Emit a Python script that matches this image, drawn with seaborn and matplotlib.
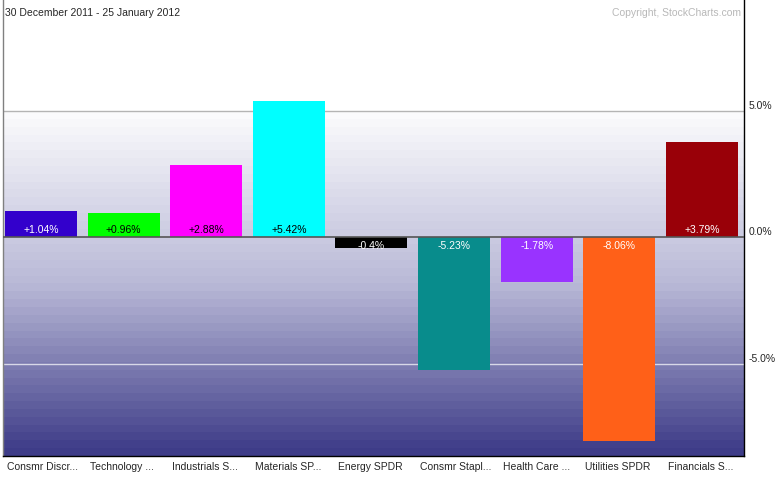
import numpy as np
import matplotlib.pyplot as plt
from matplotlib.colors import LinearSegmentedColormap
import seaborn as sns

sectors = ['Consmr Discr...', 'Technology ...', 'Industrials S...', 'Materials SP...',
           'Energy SPDR', 'Consmr Stapl...', 'Health Care ...', 'Utilities SPDR',
           'Financials S...']
changes = [1.04, 0.96, 2.88, 5.42, -0.4, -5.23, -1.78, -8.06, 3.79]
labels = ['+1.04%', '+0.96%', '+2.88%', '+5.42%', '-0.4%', '-5.23%', '-1.78%',
          '-8.06%', '+3.79%']
colors = ['#3300cc', '#00ff00', '#ff00ff', '#00ffff', '#000000', '#088c8c',
          '#9933ff', '#ff6018', '#990008']
label_colors = ['white', 'black', 'black', 'black', 'white', 'white', 'white',
                'white', 'white']
yticks = [5, 0, -5]
ytick_labels = ['5.0%', '0.0%', '-5.0%']

sns.set_style('white')
plt.rcParams['font.family'] = ['Liberation Sans', 'DejaVu Sans']

fig = plt.figure(figsize=(7.78, 4.80), dpi=100)
ax = fig.add_axes([3 / 778, 24 / 480, 741 / 778, 456 / 480])

xlo, xhi = -0.46, 8.51
ymin, ymax = -8.65, 9.4

# background gradient from the +5% line down to the bottom
cmap = LinearSegmentedColormap.from_list('bg', ['#fafafc', '#b9b9d7', '#3e3c88'])
grad = np.linspace(0, 1, 44).reshape(-1, 1)
ax.imshow(grad, cmap=cmap, aspect='auto', interpolation='nearest',
          extent=(xlo, xhi, ymin, 5), origin='upper', zorder=0)

sns.barplot(x=sectors, y=changes, hue=sectors, palette=colors, width=0.872,
            saturation=1, legend=False, edgecolor='none', linewidth=0,
            ax=ax, zorder=2)
ax.set_xlim(xlo, xhi)
ax.set_ylim(ymin, ymax)

ax.axhline(5, color='#b4b4b4', lw=1, zorder=1)
ax.axhline(-5, color='#d8d8e8', lw=1, zorder=1)
ax.axhline(0, color='#555555', lw=1.2, zorder=3)

for i, (v, lab, c) in enumerate(zip(changes, labels, label_colors)):
    if v >= 0:
        ax.annotate(lab, (i, 0), xytext=(0, 2), textcoords='offset points',
                    ha='center', va='bottom', color=c, fontsize=7.5, zorder=4)
    else:
        ax.annotate(lab, (i, 0), xytext=(0, -2.5), textcoords='offset points',
                    ha='center', va='top', color=c, fontsize=7.5, zorder=4)

ax.set_xticks(np.arange(len(sectors)) - 0.41)
ax.set_xticklabels(sectors, ha='left', fontsize=7.5)
ax.tick_params(axis='x', length=0, pad=4)

ax.yaxis.tick_right()
ax.set_yticks(yticks)
ax.set_yticklabels(ytick_labels, fontsize=7.5)
ax.tick_params(axis='y', length=0, pad=3)
for t in ax.get_yticklabels():
    t.set_va('bottom')
ax.set_xlabel('')
ax.set_ylabel('')

ax.spines['top'].set_visible(False)
ax.spines['left'].set_color('#808080')
ax.spines['right'].set_color('black')
ax.spines['bottom'].set_color('black')
for s in ['left', 'right', 'bottom']:
    ax.spines[s].set_linewidth(1)

fig.text(5 / 778, 1 - 13 / 480, '30 December 2011 - 25 January 2012',
         fontsize=7.5, va='center', ha='left')
fig.text(741 / 778, 1 - 13 / 480, 'Copyright, StockCharts.com',
         fontsize=7.5, va='center', ha='right', color='#b8b8b8')

fig.savefig('out.png', dpi=100)
